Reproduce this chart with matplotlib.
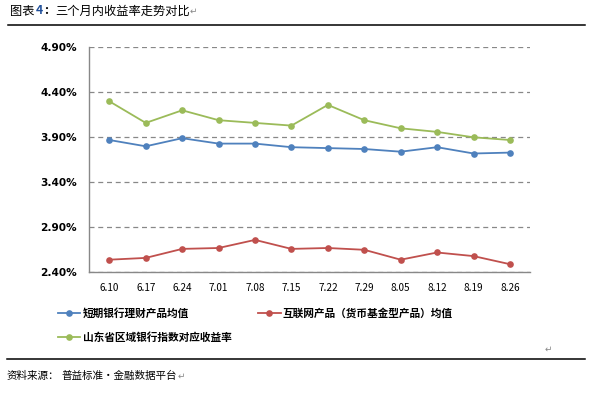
import matplotlib
matplotlib.use("Agg")
import matplotlib.pyplot as plt
from matplotlib.ticker import FuncFormatter

plt.rcParams['font.family'] = ['Noto Sans CJK SC', 'DejaVu Sans']

# data (percent)
dates = ['6.10', '6.17', '6.24', '7.01', '7.08', '7.15', '7.22', '7.29', '8.05', '8.12', '8.19', '8.26']
bank_avg = [3.87, 3.80, 3.89, 3.83, 3.83, 3.79, 3.78, 3.77, 3.74, 3.79, 3.72, 3.73]
internet_avg = [2.54, 2.56, 2.66, 2.67, 2.76, 2.66, 2.67, 2.65, 2.54, 2.62, 2.58, 2.49]
shandong_idx = [4.30, 4.06, 4.20, 4.09, 4.06, 4.03, 4.26, 4.09, 4.00, 3.96, 3.90, 3.87]
yticks = [2.40, 2.90, 3.40, 3.90, 4.40, 4.90]

labels = ['短期银行理财产品均值', '互联网产品（货币基金型产品）均值', '山东省区域银行指数对应收益率']
colors = ['#4F81BD', '#C0504D', '#9BBB59']

W, H = 590, 393
fig = plt.figure(figsize=(W / 100, H / 100), dpi=100)
ax = fig.add_axes([89.3 / W, 1 - 272.3 / H, (530 - 89.3) / W, (272.3 - 47.3) / H])

x = list(range(len(dates)))
handles = []
for vals, c, lab in zip([bank_avg, internet_avg, shandong_idx], colors, labels):
    h, = ax.plot(x, vals, color=c, linewidth=1.3, marker='o', markersize=4.8,
                 markeredgewidth=0, label=lab, zorder=3)
    handles.append(h)

ax.set_xlim(-0.55, len(dates) - 0.45)
ax.set_ylim(yticks[0], yticks[-1])
ax.set_yticks(yticks)
ax.yaxis.set_major_formatter(FuncFormatter(lambda v, p: '%.2f%%' % v))
ax.set_xticks(x)
ax.set_xticklabels(dates)
ax.tick_params(axis='both', length=0)
ax.tick_params(axis='y', pad=9)
ax.tick_params(axis='x', pad=8)
for t in ax.get_yticklabels():
    t.set_fontfamily('DejaVu Sans')
    t.set_fontweight('bold')
    t.set_fontsize(7.6)
for t in ax.get_xticklabels():
    t.set_fontsize(7.2)

ax.grid(axis='y', color='#888888', linestyle=(0, (4, 3)), linewidth=0.9)
ax.set_axisbelow(True)
for s in ['top', 'right']:
    ax.spines[s].set_visible(False)
for s in ['left', 'bottom']:
    ax.spines[s].set_color('#888888')
    ax.spines[s].set_linewidth(1.0)

# order so rows read: bank, internet / shandong
fig.legend([handles[0], handles[2], handles[1]], [labels[0], labels[2], labels[1]],
           loc='upper left', bbox_to_anchor=(58 / W, 1 - 307.5 / H), ncol=2,
           frameon=False, borderpad=0, borderaxespad=0, handlelength=2.1,
           handletextpad=0.2, columnspacing=2.5, labelspacing=1.31,
           prop={'size': 7.7, 'weight': 'bold'})

# title and source lines
fig.text(10 / W, 1 - 11 / H, '图表', fontsize=8.8, va='center')
fig.text(36 / W, 1 - 11 / H, '4', fontsize=8.8, va='center', color='#1F4E99', fontweight='bold')
fig.text(44 / W, 1 - 11 / H, ':', fontsize=8.8, va='center', fontweight='bold')
fig.text(55 / W, 1 - 11 / H, '三个月内收益率走势对比', fontsize=8.8, va='center')
fig.text(190 / W, 1 - 11 / H, '↵', fontsize=6.5, va='center', color='#888888')
fig.add_artist(plt.Line2D([8 / W, 585 / W], [1 - 25 / H, 1 - 25 / H], color='black', linewidth=1.1))

fig.text(545 / W, 1 - 349 / H, '↵', fontsize=6.5, va='center', color='#888888')
fig.add_artist(plt.Line2D([7 / W, 585 / W], [1 - 359 / H, 1 - 359 / H], color='black', linewidth=1.1))
fig.text(7 / W, 1 - 376 / H, '资料来源：', fontsize=7.6, va='center')
fig.text(61 / W, 1 - 376 / H, '普益标准・金融数据平台', fontsize=7.6, va='center')
fig.text(178 / W, 1 - 376 / H, '↵', fontsize=6.5, va='center', color='#888888')

fig.savefig('out.png', dpi=100)
